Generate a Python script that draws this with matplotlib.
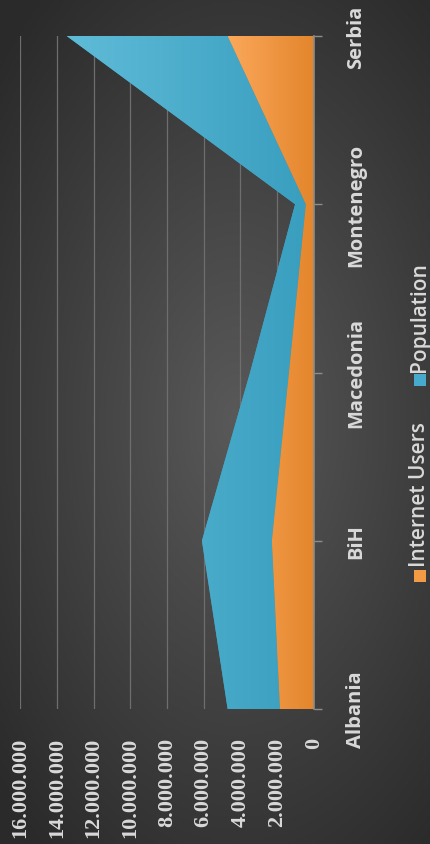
import numpy as np
import matplotlib.pyplot as plt
from matplotlib.colors import LinearSegmentedColormap
from matplotlib.patches import Rectangle

countries = ["Albania", "BiH", "Macedonia", "Montenegro", "Serbia"]
internet_users = [1.85e6, 2.29e6, 1.36e6, 0.44e6, 4.70e6]
population = [2.85e6, 3.81e6, 2.12e6, 0.59e6, 8.76e6]
value_ticks = [0, 2e6, 4e6, 6e6, 8e6, 10e6, 12e6, 14e6, 16e6]
value_labels = ["0", "2.000.000", "4.000.000", "6.000.000", "8.000.000",
                "10.000.000", "12.000.000", "14.000.000", "16.000.000"]

W, H = 430, 845
TXT = "#d9d9d9"

fig = plt.figure(figsize=(W / 100, H / 100), dpi=100)

# dark radial background
bg = fig.add_axes([0, 0, 1, 1])
bg.axis("off")
yy, xx = np.mgrid[0:1:400j, 0:1:200j]
r = np.sqrt(((xx - 0.55) / 0.75) ** 2 + ((yy - 0.5) / 0.65) ** 2)
bg_cmap = LinearSegmentedColormap.from_list("bg", ["#595959", "#2a2a2a"])
bg.imshow(r, cmap=bg_cmap, vmin=0, vmax=1, extent=[0, 1, 0, 1], aspect="auto")

ax = fig.add_axes([20 / W, 135 / H, 294 / W, 673 / H])
ax.set_facecolor("none")

y = np.arange(len(countries))
inet = np.array(internet_users)
total = inet + np.array(population)


def gradient_fill(x0, x1, light, dark):
    poly = ax.fill_betweenx(y, x0, x1, facecolor=dark, edgecolor="none", zorder=2)
    cmap = LinearSegmentedColormap.from_list("g", [dark, light])
    grad = np.linspace(0, 1, 256).reshape(1, -1)
    im = ax.imshow(grad, cmap=cmap, extent=[0, max(x1), 0, len(y) - 1],
                   aspect="auto", zorder=3)
    im.set_clip_path(poly.get_paths()[0], ax.transData)


gradient_fill(inet, total, "#5fbcd8", "#389dbe")
gradient_fill(0, inet, "#fba85b", "#e3852b")

ax.set_xlim(16e6, 0)
ax.set_ylim(0, len(y) - 1)

ax.set_xticks(value_ticks)
ax.set_xticklabels(value_labels, rotation=90, color=TXT,
                   family="Liberation Serif", fontweight="bold", fontsize=16)
ax.tick_params(axis="x", length=0, pad=20)
ax.grid(axis="x", color="#6e6e6e", lw=0.9, zorder=1)

ax.yaxis.tick_right()
ax.set_yticks(y)
ax.set_yticklabels(countries, rotation=90, va="center", color=TXT,
                   family="Open Sans", fontweight="bold", fontsize=14.5)
ax.tick_params(axis="y", length=6, width=1, color="#8c8c8c", pad=17)

for s in ["top", "bottom", "left"]:
    ax.spines[s].set_visible(False)
ax.spines["right"].set_color("#8c8c8c")
ax.spines["right"].set_linewidth(1.2)
ax.spines["right"].set_zorder(4)

# legend (rotated, drawn by hand)
legend_items = [("Internet Users", "#f39a45", 583, 567), ("Population", "#45aacb", 387, 372)]
for label, col, sq_bottom, txt_start in legend_items:
    fig.patches.append(Rectangle((414 / W, 1 - sq_bottom / H), 12 / W, 12 / H,
                                 transform=fig.transFigure, facecolor=col,
                                 edgecolor="none"))
    fig.text(419.5 / W, 1 - txt_start / H, label, rotation=90, ha="center", va="bottom",
             color=TXT, family="Open Sans", fontweight="semibold", fontsize=15)

fig.savefig("out.png", dpi=100)
